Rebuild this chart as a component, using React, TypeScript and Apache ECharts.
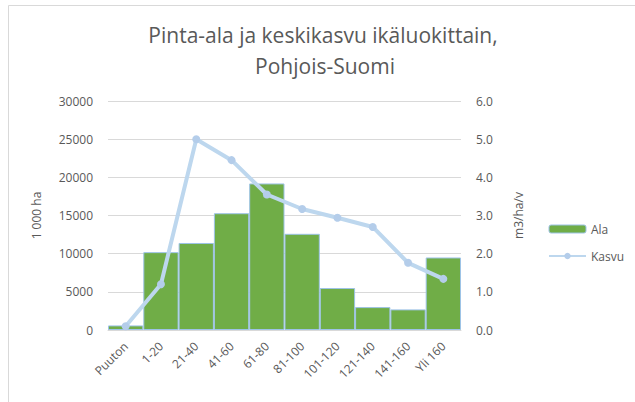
import React, { useEffect, useRef } from "react";
import * as echarts from "echarts";

const categories = ["Puuton", "1-20", "21-40", "41-60", "61-80", "81-100", "101-120", "121-140", "141-160", "Yli 160"];
const alaValues = [600, 10200, 11400, 15300, 19200, 12600, 5500, 3000, 2700, 9500];
const kasvuValues = [0.1, 1.2, 5.0, 4.45, 3.55, 3.17, 2.94, 2.7, 1.76, 1.34];
const titleLines = ["Pinta-ala ja keskikasvu ikäluokittain,", "Pohjois-Suomi"];

const FONT = "'Open Sans', 'Noto Sans', sans-serif";
const GRAY = "#595959";

export default function App() {
  const ref = useRef<HTMLDivElement>(null);
  useEffect(() => {
    if (!ref.current) return;
    const chart = echarts.init(ref.current, undefined, { renderer: "svg" });
    chart.setOption({
      animation: false,
      textStyle: { fontFamily: FONT },
      graphic: [
        { type: "rect", shape: { x: 8.5, y: 5.5, width: 700, height: 500 }, style: { fill: "none", stroke: "#d9d9d9", lineWidth: 1 }, silent: true },
        { type: "text", x: 323, y: 35, style: { text: titleLines[0], fontSize: 21, fill: GRAY, fontFamily: FONT, align: "center", verticalAlign: "middle" } },
        { type: "text", x: 325, y: 66, style: { text: titleLines[1], fontSize: 21, fill: GRAY, fontFamily: FONT, align: "center", verticalAlign: "middle" } },
      ],
      legend: {
        orient: "vertical",
        left: 543,
        top: 218,
        itemWidth: 37,
        itemHeight: 8,
        itemGap: 15,
        textStyle: { fontSize: 12, color: GRAY, fontFamily: FONT },
        data: [
          { name: "Ala", itemStyle: { color: "#70ad47", borderColor: "#9dc3e6", borderWidth: 1 } },
          { name: "Kasvu" },
        ],
      },
      grid: { left: 108, right: 174, top: 101, bottom: 72 },
      xAxis: {
        type: "category",
        data: categories,
        axisLine: { lineStyle: { color: "#d9d9d9" } },
        axisTick: { show: false },
        axisLabel: { rotate: 45, color: GRAY, fontSize: 12, margin: 14, fontFamily: FONT },
      },
      yAxis: [
        {
          type: "value",
          min: 0,
          max: 30000,
          interval: 5000,
          name: "1 000 ha",
          nameLocation: "middle",
          nameGap: 66,
          nameTextStyle: { color: GRAY, fontSize: 12, fontFamily: FONT },
          axisLabel: { color: GRAY, fontSize: 12, margin: 15, fontFamily: FONT, formatter: (v: number) => String(v) },
          splitLine: { lineStyle: { color: "#d9d9d9" } },
          axisLine: { show: false },
          axisTick: { show: false },
        },
        {
          type: "value",
          min: 0,
          max: 6,
          interval: 1,
          name: "m3/ha/v",
          nameLocation: "middle",
          nameGap: 51,
          nameTextStyle: { color: GRAY, fontSize: 12, fontFamily: FONT },
          axisLabel: { color: GRAY, fontSize: 12, margin: 15, fontFamily: FONT, formatter: (v: number) => v.toFixed(1) },
          splitLine: { show: false },
          axisLine: { show: false },
          axisTick: { show: false },
        },
      ],
      series: [
        {
          name: "Ala",
          type: "bar",
          data: alaValues,
          barCategoryGap: "0%",
          itemStyle: { color: "#70ad47", borderColor: "#9dc3e6", borderWidth: 1 },
        },
        {
          name: "Kasvu",
          type: "line",
          yAxisIndex: 1,
          data: kasvuValues,
          symbol: "circle",
          symbolSize: 8,
          lineStyle: { color: "#bdd7ee", width: 4 },
          itemStyle: { color: "#b4cdea", borderWidth: 0 },
        },
      ],
    });
    return () => chart.dispose();
  }, []);
  return <div ref={ref} style={{ width: 635, height: 402, position: "absolute", left: 0, top: 0, background: "#fff" }} />;
}
